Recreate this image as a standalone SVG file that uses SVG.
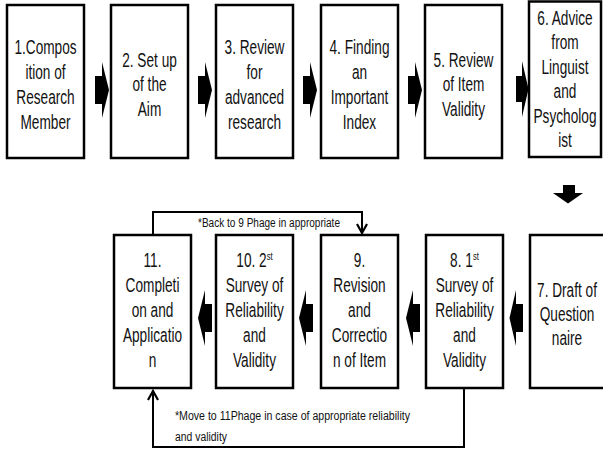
<svg xmlns="http://www.w3.org/2000/svg" width="603" height="450" viewBox="0 0 603 450">
<defs>
<style>
.box{fill:#fff;stroke:#000;stroke-width:2.5}
.t{font-family:"Liberation Sans",Arial,sans-serif;font-size:19.5px;fill:#111;text-anchor:middle}
.sup{font-size:11px}
.note{font-family:"Liberation Sans",Arial,sans-serif;font-size:12px;fill:#111}
.blk{fill:#000}
.ln{fill:none;stroke:#000;stroke-width:2}
</style>
<marker id="chev" viewBox="0 0 12 12" refX="10" refY="6" markerWidth="12" markerHeight="12" markerUnits="userSpaceOnUse" orient="auto">
<path d="M1,1 L10,6 L1,11" fill="none" stroke="#000" stroke-width="2.2"/>
</marker>
</defs>
<rect width="603" height="450" fill="#fff"/>

<g id="n1"><rect class="box" x="7" y="5" width="77" height="153"/>
<g transform="translate(45.5 0) scale(0.7 1)"><text class="t" x="0" y="54">1.Compos</text><text class="t" x="0" y="79">ition of</text><text class="t" x="0" y="104">Research</text><text class="t" x="0" y="129">Member</text></g></g>

<g id="n2"><rect class="box" x="111" y="5" width="77" height="153"/>
<g transform="translate(149.5 0) scale(0.7 1)"><text class="t" x="0" y="67">2. Set up</text><text class="t" x="0" y="91.5">of the</text><text class="t" x="0" y="116">Aim</text></g></g>

<g id="n3"><rect class="box" x="216" y="5" width="77" height="153"/>
<g transform="translate(254.5 0) scale(0.7 1)"><text class="t" x="0" y="54">3. Review</text><text class="t" x="0" y="79">for</text><text class="t" x="0" y="104">advanced</text><text class="t" x="0" y="129">research</text></g></g>

<g id="n4"><rect class="box" x="321" y="5" width="77" height="153"/>
<g transform="translate(359.5 0) scale(0.7 1)"><text class="t" x="0" y="54">4. Finding</text><text class="t" x="0" y="79">an</text><text class="t" x="0" y="104">Important</text><text class="t" x="0" y="129">Index</text></g></g>

<g id="n5"><rect class="box" x="425" y="5" width="77" height="153"/>
<g transform="translate(463.5 0) scale(0.7 1)"><text class="t" x="0" y="67">5. Review</text><text class="t" x="0" y="91.5">of Item</text><text class="t" x="0" y="116">Validity</text></g></g>

<g id="n6"><rect class="box" x="529" y="1.5" width="72" height="155.5"/>
<g transform="translate(565 0) scale(0.7 1)"><text class="t" x="0" y="25">6. Advice</text><text class="t" x="0" y="49.5">from</text><text class="t" x="0" y="74">Linguist</text><text class="t" x="0" y="98.5">and</text><text class="t" x="0" y="123">Psycholog</text><text class="t" x="0" y="147.5">ist</text></g></g>

<g id="n7"><rect class="box" x="530" y="235" width="80" height="153"/>
<g transform="translate(567 0) scale(0.7 1)"><text class="t" x="0" y="297">7. Draft of</text><text class="t" x="0" y="321">Question</text><text class="t" x="0" y="345">naire</text></g></g>

<g id="n8"><rect class="box" x="426" y="235" width="77" height="153"/>
<g transform="translate(464.5 0) scale(0.7 1)"><text class="t" x="0" y="267">8. 1<tspan class="sup" dy="-7">st</tspan></text><text class="t" x="0" y="292">Survey of</text><text class="t" x="0" y="317">Reliability</text><text class="t" x="0" y="342">and</text><text class="t" x="0" y="367">Validity</text></g></g>

<g id="n9"><rect class="box" x="321" y="235" width="77" height="153"/>
<g transform="translate(359.5 0) scale(0.7 1)"><text class="t" x="0" y="267">9.</text><text class="t" x="0" y="292">Revision</text><text class="t" x="0" y="317">and</text><text class="t" x="0" y="342">Correctio</text><text class="t" x="0" y="367">n of Item</text></g></g>

<g id="n10"><rect class="box" x="216" y="235" width="77" height="153"/>
<g transform="translate(254.5 0) scale(0.7 1)"><text class="t" x="0" y="267">10. 2<tspan class="sup" dy="-7">st</tspan></text><text class="t" x="0" y="292">Survey of</text><text class="t" x="0" y="317">Reliability</text><text class="t" x="0" y="342">and</text><text class="t" x="0" y="367">Validity</text></g></g>

<g id="n11"><rect class="box" x="114" y="235" width="77" height="153"/>
<g transform="translate(152.5 0) scale(0.7 1)"><text class="t" x="0" y="267">11.</text><text class="t" x="0" y="292">Completi</text><text class="t" x="0" y="317">on and</text><text class="t" x="0" y="342">Applicatio</text><text class="t" x="0" y="367">n</text></g></g>

<g id="connectors">
<path class="blk" d="M95,76 H102 V62 L109,90 L102,118 V104 H95 Z"/>
<path class="blk" d="M198,76 H205 V62 L212,90 L205,118 V104 H198 Z"/>
<path class="blk" d="M303,76 H310 V62 L317,90 L310,118 V104 H303 Z"/>
<path class="blk" d="M408,76 H415 V62 L422,90 L415,118 V104 H408 Z"/>
<path class="blk" d="M516,76 H522 V61 L528.5,89 L522,117 V102 H516 Z"/>
<path class="blk" d="M563,185 H575 V193 H583 L568,203.5 L553,193 H563 Z"/>
<path class="blk" d="M523,304 H516 V290 L509.5,318 L516,346 V332 H523 Z"/>
<path class="blk" d="M420,304 H413 V290 L406,318 L413,346 V332 H420 Z"/>
<path class="blk" d="M313,304 H306 V290 L299,318 L306,346 V332 H313 Z"/>
<path class="blk" d="M212,304 H205 V290 L198,318 L205,346 V332 H212 Z"/>
<path class="ln" d="M153,235 V212 H362 V233" marker-end="url(#chev)"/>
<path class="ln" d="M464,388 V447 H153 V391" marker-end="url(#chev)"/>
<text class="note" x="198" y="227" textLength="142" lengthAdjust="spacingAndGlyphs">*Back to 9 Phage in appropriate</text>
<text class="note" x="175" y="420" textLength="235" lengthAdjust="spacingAndGlyphs">*Move to 11Phage in case of appropriate  reliability</text>
<text class="note" x="175" y="441" textLength="52" lengthAdjust="spacingAndGlyphs">and validity</text>
</g>
</svg>
